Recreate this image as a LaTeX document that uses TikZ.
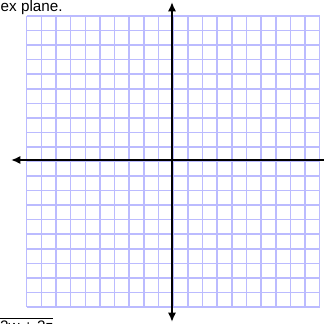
\documentclass[tikz,border=0pt]{standalone}
\usepackage{fontspec}
\setmainfont{Liberation Sans}
\usepackage{xcolor}
\usepackage{tikz}
\usetikzlibrary{arrows.meta, positioning}
\definecolor{gridline}{HTML}{BBBBFF}
\definecolor{axisdraw}{HTML}{000000}
\tikzset{
  gridln/.style={line width=1.3pt, draw=gridline},
  axisln/.style={<->, >={Latex[length=8pt, width=7pt]}, line width=2.4pt, draw=axisdraw},
  lbl/.style={font=\fontsize{13}{15}\selectfont, inner sep=0pt, text=black},
}

\begin{document}
\begin{tikzpicture}[x=0.03cm, y=0.03cm]
  \useasboundingbox (0,0) rectangle (324,323);
  % grid squares
  \foreach \k in {0,...,20} {
    \draw[gridln] ({26.7+14.65*\k},16) -- ({26.7+14.65*\k},307);
    \draw[gridln] (26.7,{307-14.55*\k}) -- (319.7,{307-14.55*\k});
  }
  % axes
  \coordinate (west) at (11,163);
  \coordinate (east) at (336,163);
  \coordinate (north) at (172,321);
  \coordinate (south) at (172,1);
  \draw[axisln] (west) -- (east);
  \draw[axisln] (south) -- (north);
  % labels
  \node[lbl, anchor=base west] (title) at (0.5,311.5) {ex plane.};
  \node[lbl, anchor=base west] (expr) at (0,-8) {$\overline{\mbox{2w + 2z}}$};
\end{tikzpicture}
\end{document}
